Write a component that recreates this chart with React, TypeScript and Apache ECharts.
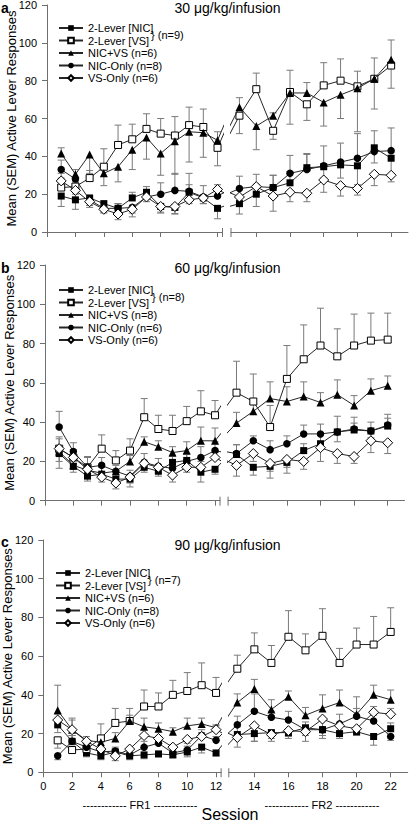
import React, { useEffect, useRef } from 'react';
import * as echarts from 'echarts';

const FONT = '"Liberation Sans", Arial, Helvetica, sans-serif';

const sessions = [1, 2, 3, 4, 5, 6, 7, 8, 9, 10, 11, 12, 13, 14, 15, 16, 17, 18, 19, 20, 21, 22];
const fr1TickValues = [0, 2, 4, 6, 8, 10, 12];
const fr2TickValues = [14, 16, 18, 20, 22];

const panelTitles = ['30 μg/kg/infusion', '60 μg/kg/infusion', '90 μg/kg/infusion'];
const panelLetters = ['a', 'b', 'c'];
const pairedN = ['} (n=9)', '} (n=8)', '} (n=7)'];
const legendNamesA = ['2-Lever [NIC]', '2-Lever [VS]', 'NIC+VS (n=6)', 'NIC-Only (n=8)', 'VS-Only (n=6)'];
const legendNamesB = ['2-Lever [NIC]', '2-Lever [VS]', 'NIC+VS (n=8)', 'NIC-Only (n=6)', 'VS-Only (n=6)'];
const legendNamesC = ['2-Lever [NIC]', '2-Lever [VS]', 'NIC+VS (n=6)', 'NIC-Only (n=8)', 'VS-Only (n=6)'];

// Panel a: 30 ug/kg/infusion (mean, signed SEM: + drawn up, - drawn down)
const A_NIC = [19, 17, 18, 15, 12.5, 18, 21, 13.5, 13, 21, 18, 12.5, 15, 20, 23.5, 26, 34, 34.5, 35.5, 35, 44.5, 39];
const A_NIC_ERR = [-5.5, -5, -3, -2, 2.5, 3, 3, -3, -3.5, 4, -3, -5.5, -5.5, -6.5, 6.5, 6, 7, -6, -7, -10, 9, -9];
const A_VS = [23.5, 24, 28.5, 34.5, 46, 49, 54.5, 52, 51, 56.5, 55.5, 44.5, 61.5, 75.5, 53.5, 74, 67.5, 77.5, 80, 77, 81, 88];
const A_VS_ERR = [5, -4, 4, 9.5, 10.5, 8, 8, 8, 10, 9.5, 9.5, -9.5, -9.5, 8.5, -4.5, 11.5, -8.5, 12, 11.5, 8, -16, -12];
const A_NICVS = [41.5, 30.5, 41, 31, 34.5, 43.5, 50, 41.5, 48, 53, 52.5, 48.5, 66, 56, 61.5, 73.5, 73.5, 68.5, 72.5, 76, 81, 91];
const A_NICVS_ERR = [3, -4, -10, -6.5, -8, -10.5, -11.5, -11.5, -17.5, -16, -13, 4.5, 5, -12.5, 1.5, -16.5, 5.5, -12.5, -12.5, -23, 11, 10.5];
const A_NICONLY = [33, 28, 17, 12.5, 12.5, 13, 18.5, 20, 22, 21.5, 18.5, 19, 23, 24, 23.5, 31, 33, 35, 37, 39, 42.5, 43];
const A_NICONLY_ERR = [5, 5, -3, -2, 2.5, -3, 3, 6, 9, 9.5, 6, 3, 6.5, 6.5, 6.5, 9.5, 8.5, 10.5, 10, 13, -6, 12];
const A_VSONLY = [27, 22, 16, 12, 9.5, 12, 18.5, 13.5, 13.5, 17, 18, 22.5, 18.5, 24, 19, 21, 20.5, 27.5, 24.5, 23, 30.5, 30];
const A_VSONLY_ERR = [4, -4, -3, -2, -3, -4, -2.5, -3.5, -3.8, -2, -3, 2.5, -5, -3, -8, -5, -4.5, -6.5, -5.5, -3.5, -6, -3.5];

// Panel b: 60 ug/kg/infusion
const B_NIC = [24, 17.5, 12.5, 13.5, 11, 11, 17, 15, 19.5, 20.5, 14.5, 16, 23.5, 17, 17.5, 19.5, 25.5, 29, 35, 36, 35.5, 38];
const B_NIC_ERR = [-7.5, -3, -2.5, -2.5, -2.5, -4, 3, -2.5, 3, 3, -5, -2.5, 5, -4, -6, -5.5, 3.5, 5, -5, 3.5, -3.5, 4];
const B_VS = [26.5, 22, 17, 26.5, 20.5, 25.5, 42.5, 36.5, 35.5, 40.5, 45.5, 43.5, 55, 50.5, 37.5, 62, 72, 79, 73.5, 79, 81.5, 82];
const B_VS_ERR = [5, 4, 5, 7, 5, 6, 9.5, 7, 8, 7.5, 10.5, 7.5, 16, 14, 11, 17, 17.5, 19, 14, 16, 14, 13.5];
const B_NICVS = [25, 18, 15.5, 14, 15, 20, 30, 27.5, 24.5, 25.5, 30.5, 30.5, 39.5, 45.5, 52, 50.5, 53, 50, 54, 48.5, 56, 58.5];
const B_NICVS_ERR = [-5, -2, -2, 3, -2.5, 3, 2.5, 3, 3, 4.5, 7, 6.5, 5.5, 4, 8.5, 7.5, 7.5, 5, 7.5, 5, 6, 5];
const B_NICONLY = [37.5, 25, 17, 18, 15, 12.5, 19.5, 17.5, 16.5, 20, 22, 25.5, 24, 30.5, 26, 29, 34, 34, 35, 36.5, 35.5, 38.5];
const B_NICONLY_ERR = [8, 4.5, 5.5, 4, 3, 3, 4.5, 4, 4, 4, 5.5, 4.5, 4.5, 2.5, 4.5, 4, 4.5, 5, 8, 6, 4.5, 5.5];
const B_VSONLY = [26.5, 22, 16, 12, 9, 12, 19, 17, 13, 17, 17, 22, 18, 24, 19, 21, 20, 27, 24, 22.5, 30.5, 29.5];
const B_VSONLY_ERR = [6, -3, -3, -2.5, -3, -3, -4.5, -3, -3.5, -2.5, 3, 2.5, -5.5, -4, -4, -4, -4, -7, -5, -3.5, -6, -5.5];

// Panel c: 90 ug/kg/infusion
const C_NIC = [24.5, 16, 10, 8.5, 10.5, 8.5, 9, 9.5, 9, 10.5, 13, 10, 19.5, 20, 20.5, 20.5, 23, 22, 20, 21, 18.5, 22.5];
const C_NIC_ERR = [-4, 3, -2, -2, -2, -2, -2, -1.5, -1.5, -2.5, -3, -1.5, 4, -4, -3, -3, 3, -4.5, -2.5, -2, -4.5, 3];
const C_VS = [16.5, 11.5, 12, 17.5, 25.5, 26.5, 34, 34, 40, 42, 45, 41, 53.5, 63.5, 56.5, 70, 63, 70.5, 56.5, 66, 66, 72.5];
const C_VS_ERR = [-4, 2, 2, 7.5, 7.5, 6.5, 8.5, 7, 7.5, 9.5, 11.5, 8, 7, 8.5, 9, 13.5, 8.5, 14, 7.5, 8.5, 14.5, 12.5];
const C_NICVS = [32, 22, 16.5, 15.5, 17.5, 26.5, 23.5, 22.5, 21, 24, 25, 23, 36, 43, 32.5, 39, 29.5, 33, 36, 30, 40, 37.5];
const C_NICVS_ERR = [13, 5, 2, 2.5, 3, 3, 4.5, 3, 2, 4, 3, 1.5, 4.5, 5, 5, 3, 4, 7, 6.5, 9, 5, 5];
const C_NICONLY = [8.5, 16, 13, 10.5, 11, 9, 13, 15, 10, 11.5, 19, 16.5, 24.5, 31.5, 28.5, 27, 22, 22, 25, 29, 26.5, 18.5];
const C_NICONLY_ERR = [-2, 3, 2, 2, 2, 2, 3, 2, 2, 2, 3, 2, 4.5, 9, 3, 4.5, -3, -3, 5, 4, 3, -2];
const C_VSONLY = [27, 22, 16, 12, 8.5, 12, 19, 17.5, 13, 17, 18.5, 22, 18, 24, 19.5, 21.5, 21, 27.5, 24, 22.5, 31, 30];
const C_VSONLY_ERR = [3, 6, -2, -2, -2.5, -2, 3, -2, -2, -2, 2, 2, -5, -8, -3.5, -3, -5, -4, -3, -3.5, 3, 3];

const panelSeries = [
  { names: legendNamesA, values: [A_NIC, A_VS, A_NICVS, A_NICONLY, A_VSONLY], errs: [A_NIC_ERR, A_VS_ERR, A_NICVS_ERR, A_NICONLY_ERR, A_VSONLY_ERR] },
  { names: legendNamesB, values: [B_NIC, B_VS, B_NICVS, B_NICONLY, B_VSONLY], errs: [B_NIC_ERR, B_VS_ERR, B_NICVS_ERR, B_NICONLY_ERR, B_VSONLY_ERR] },
  { names: legendNamesC, values: [C_NIC, C_VS, C_NICVS, C_NICONLY, C_VSONLY], errs: [C_NIC_ERR, C_VS_ERR, C_NICVS_ERR, C_NICONLY_ERR, C_VSONLY_ERR] },
];

// layout (pixels); legendTop = centre of the first legend row
const layout = [
  { top: 5, height: 227, l1: 47, w1: 175.5, l2: 231, w2: 177, legendTop: 28, legendLeft: 58, titleY: 8, letterY: 8, nX: 151, nY: 35 },
  { top: 265, height: 235.7, l1: 45, w1: 175, l2: 228.1, w2: 176.4, legendTop: 290, legendLeft: 58, titleY: 268, letterY: 268, nX: 152, nY: 297 },
  { top: 540, height: 232.3, l1: 43.3, w1: 177.8, l2: 228.8, w2: 178.9, legendTop: 573, legendLeft: 55, titleY: 545, letterY: 542, nX: 148, nY: 580 },
];
const FR1_MAX = 12.35;
const FR2_MIN = 12.5;
const FR2_MAX = 23;
const LEGEND_LINE = 12.5;

const markers = [
  { symbol: 'rect', size: 7, fill: '#000' },
  { symbol: 'rect', size: 7, fill: '#fff' },
  { symbol: 'triangle', size: 8, fill: '#000' },
  { symbol: 'circle', size: 7.5, fill: '#000' },
  { symbol: 'diamond', size: 10, fill: '#fff' },
];

const AXIS_COLOR = '#6f6f6f';
const ERR_COLOR = '#7a7a7a';
const LINE_COLOR = '#262626';

function buildOption() {
  const grid: any[] = [];
  const xAxis: any[] = [];
  const yAxis: any[] = [];
  const series: any[] = [];
  const legend: any[] = [];
  const graphic: any[] = [];

  const errRender = (params: any, api: any) => {
    const x = api.value(0);
    const y = api.value(1);
    const e = api.value(2);
    const p = api.coord([x, y]);
    const q = api.coord([x, y + e]);
    const style = { stroke: ERR_COLOR, lineWidth: 1, fill: 'none' };
    return {
      type: 'group',
      children: [
        { type: 'line', shape: { x1: p[0], y1: p[1], x2: q[0], y2: q[1] }, style },
        { type: 'line', shape: { x1: q[0] - 3.5, y1: q[1], x2: q[0] + 3.5, y2: q[1] }, style },
      ],
    };
  };

  layout.forEach((L, p) => {
    const isLast = p === layout.length - 1;
    const g1 = p * 2;
    const g2 = p * 2 + 1;
    grid.push({ left: L.l1, top: L.top, width: L.w1, height: L.height, outerBoundsMode: 'none' });
    grid.push({ left: L.l2, top: L.top, width: L.w2, height: L.height, outerBoundsMode: 'none' });

    const xCommon = {
      type: 'value',
      splitLine: { show: false },
      axisLine: { show: true, onZero: false, lineStyle: { color: AXIS_COLOR, width: 1 } },
      axisTick: { show: true, inside: false, length: 5, lineStyle: { color: AXIS_COLOR } },
    };
    xAxis.push({
      ...xCommon,
      gridIndex: g1,
      min: 0,
      max: FR1_MAX,
      axisTick: { ...xCommon.axisTick, customValues: fr1TickValues },
      axisLabel: { show: isLast, customValues: fr1TickValues, fontSize: 11, color: '#000', fontFamily: FONT, margin: 8 },
    });
    xAxis.push({
      ...xCommon,
      gridIndex: g2,
      min: FR2_MIN,
      max: FR2_MAX,
      axisTick: { ...xCommon.axisTick, customValues: fr2TickValues },
      axisLabel: { show: isLast, customValues: fr2TickValues, fontSize: 11, color: '#000', fontFamily: FONT, margin: 8 },
    });
    yAxis.push({
      type: 'value',
      gridIndex: g1,
      min: 0,
      max: 120,
      interval: 20,
      splitLine: { show: false },
      axisLine: { show: true, lineStyle: { color: AXIS_COLOR, width: 1 } },
      axisTick: { show: true, inside: false, length: 5, lineStyle: { color: AXIS_COLOR } },
      axisLabel: { fontSize: 11, color: '#000', fontFamily: FONT, margin: 10 },
      name: 'Mean (SEM) Active Lever Responses',
      nameLocation: 'middle',
      nameGap: 29,
      nameMoveOverlap: false,
      nameTextStyle: { fontSize: 13, color: '#000', fontFamily: FONT },
    });
    yAxis.push({ type: 'value', gridIndex: g2, min: 0, max: 120, interval: 20, show: false });

    const P = panelSeries[p];
    P.names.forEach((name, k) => {
      const vals = P.values[k];
      const errs = P.errs[k];
      const m = markers[k];
      const lineBase = {
        type: 'line',
        name,
        symbol: m.symbol,
        symbolSize: m.size,
        clip: true,
        silent: true,
        z: 3 + k,
        lineStyle: { color: LINE_COLOR, width: 1 },
        itemStyle: { color: m.fill, borderColor: '#000', borderWidth: m.fill === '#fff' ? 1 : 0 },
        emphasis: { disabled: true },
      };
      const fr1: any[] = [];
      const fr2: any[] = [];
      const e1: any[] = [];
      const e2: any[] = [];
      sessions.forEach((s, i) => {
        if (s <= 12) {
          fr1.push([s, vals[i]]);
          e1.push([s, vals[i], errs[i]]);
        } else {
          fr2.push([s, vals[i]]);
          e2.push([s, vals[i], errs[i]]);
        }
      });
      // bridging segments across the axis break (clipped at the grid edges)
      const i12 = sessions.indexOf(12);
      const i13 = sessions.indexOf(13);
      fr1.push({ value: [sessions[i13], vals[i13]], symbol: 'none' });
      fr2.unshift({ value: [sessions[i12], vals[i12]], symbol: 'none' });

      series.push({ ...lineBase, xAxisIndex: g1, yAxisIndex: g1, data: fr1 });
      series.push({ ...lineBase, xAxisIndex: g2, yAxisIndex: g2, data: fr2 });
      series.push({ type: 'custom', name: name + ' SEM', xAxisIndex: g1, yAxisIndex: g1, z: 2, silent: true, renderItem: errRender, data: e1 });
      series.push({ type: 'custom', name: name + ' SEM', xAxisIndex: g2, yAxisIndex: g2, z: 2, silent: true, renderItem: errRender, data: e2 });
    });

    legend.push({
      data: P.names,
      orient: 'vertical',
      left: L.legendLeft,
      top: L.legendTop - LEGEND_LINE / 2,
      itemWidth: 24,
      itemHeight: 7,
      itemGap: 0,
      padding: 0,
      selectedMode: false,
      textStyle: { fontSize: 11, color: '#000', fontFamily: FONT, lineHeight: LEGEND_LINE },
    });

    const axisY = L.top + L.height;
    const breakStyle = { stroke: AXIS_COLOR, lineWidth: 1 };
    graphic.push(
      { type: 'line', silent: true, shape: { x1: L.l1 + L.w1, y1: axisY - 4, x2: L.l1 + L.w1, y2: axisY + 5 }, style: breakStyle },
      { type: 'line', silent: true, shape: { x1: L.l2, y1: axisY - 4, x2: L.l2, y2: axisY + 5 }, style: breakStyle },
      {
        type: 'text', silent: true, x: 227.5, y: L.titleY,
        style: { text: panelTitles[p], fontSize: 14, fontFamily: FONT, fill: '#000', textAlign: 'center', textVerticalAlign: 'middle' },
      },
      {
        type: 'text', silent: true, x: 1, y: L.letterY,
        style: { text: panelLetters[p], fontSize: 14, fontWeight: 'bold', fontFamily: FONT, fill: '#000', textAlign: 'left', textVerticalAlign: 'middle' },
      },
      {
        type: 'text', silent: true, x: L.nX, y: L.nY,
        style: { text: pairedN[p], fontSize: 11, fontFamily: FONT, fill: '#000', textAlign: 'left', textVerticalAlign: 'middle' },
      }
    );
  });

  graphic.push(
    {
      type: 'text', silent: true, x: 140, y: 805,
      style: { text: '------------ FR1 ------------', fontSize: 11, fontFamily: FONT, fill: '#000', textAlign: 'center', textVerticalAlign: 'middle' },
    },
    {
      type: 'text', silent: true, x: 322, y: 805,
      style: { text: '------------ FR2 ------------', fontSize: 11, fontFamily: FONT, fill: '#000', textAlign: 'center', textVerticalAlign: 'middle' },
    },
    {
      type: 'text', silent: true, x: 230, y: 814,
      style: { text: 'Session', fontSize: 16, fontFamily: FONT, fill: '#000', textAlign: 'center', textVerticalAlign: 'middle' },
    }
  );

  return {
    animation: false,
    backgroundColor: '#fff',
    textStyle: { fontFamily: FONT },
    grid,
    xAxis,
    yAxis,
    legend,
    series,
    graphic,
  };
}

export default function App() {
  const ref = useRef<HTMLDivElement>(null);
  useEffect(() => {
    document.body.style.margin = '0';
    if (!ref.current) return;
    const chart = echarts.init(ref.current, null, { renderer: 'svg' });
    chart.setOption(buildOption() as any);
    return () => chart.dispose();
  }, []);
  return <div ref={ref} style={{ width: 410, height: 821, display: 'block' }} />;
}
